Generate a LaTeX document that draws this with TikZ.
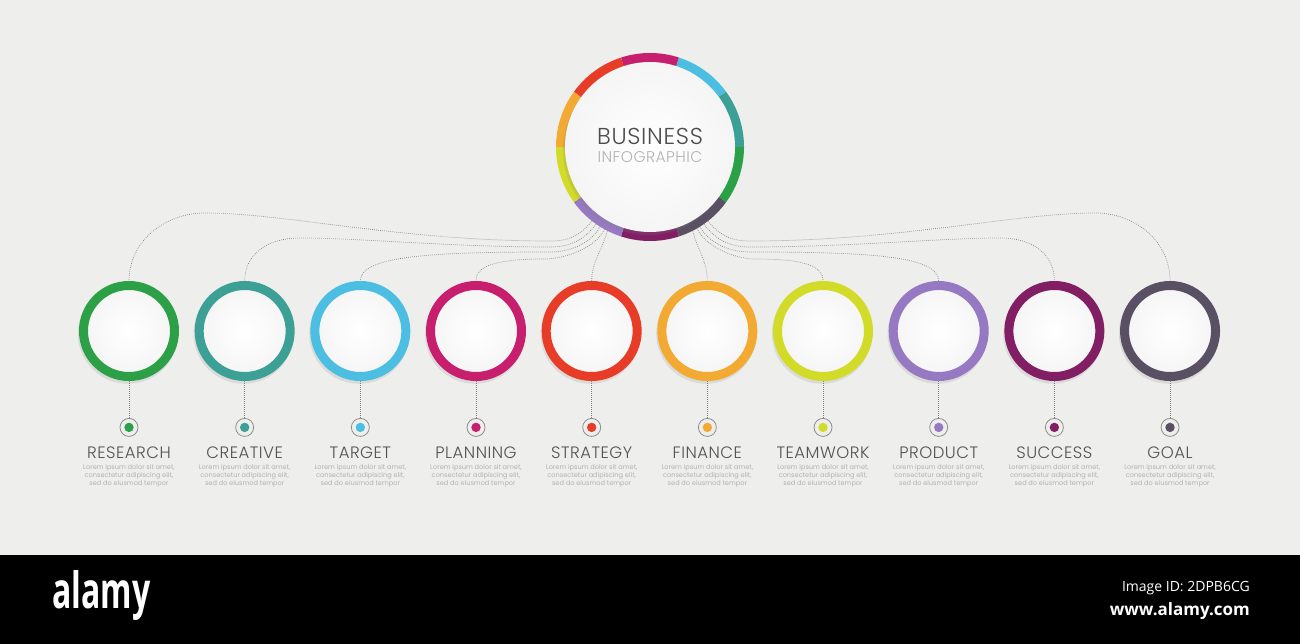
\documentclass[tikz,border=0pt]{standalone}
\usepackage{fontspec}
\setmainfont{Poppins}
\newfontfamily\thinfont{Poppins Light}[LetterSpace=3]
\newfontfamily\wmfont{Open Sans}
\usepackage{graphicx}
\usepackage{tikz}
\usetikzlibrary{positioning,shadows}

\definecolor{bg}{RGB}{238,238,236}
\definecolor{cresearch}{RGB}{44,160,70}
\definecolor{ccreative}{RGB}{60,160,150}
\definecolor{ctarget}{RGB}{75,190,225}
\definecolor{cplanning}{RGB}{200,30,110}
\definecolor{cstrategy}{RGB}{230,60,40}
\definecolor{cfinance}{RGB}{242,170,50}
\definecolor{cteamwork}{RGB}{210,220,40}
\definecolor{cproduct}{RGB}{150,120,195}
\definecolor{csuccess}{RGB}{130,30,100}
\definecolor{cgoal}{RGB}{90,80,100}

\begin{document}
\begin{tikzpicture}[x=1pt,y=1pt,node distance=115.67pt]
\tikzstyle{ring} = [circle, line width=9pt, minimum size=91pt, inner sep=0pt, outer sep=4.5pt, inner color=white, outer color=black!4, drop shadow={shadow scale=1.1, shadow xshift=-1pt, shadow yshift=-2.5pt, opacity=.18}]
\tikzstyle{hubface} = [circle, minimum size=170pt, inner sep=0pt, inner color=white, outer color=black!4, drop shadow={shadow xshift=-2pt, shadow yshift=-3pt, opacity=.2}]
\tikzstyle{dotring} = [circle, draw=black!45, line width=0.8pt, fill=bg, minimum size=18pt, inner sep=0pt]
\tikzstyle{steptitle} = [text=black!68, font=\thinfont\fontsize{16.5}{16.5}\selectfont, inner sep=0pt]
\tikzstyle{steptext} = [text=black!30, font=\fontsize{6.6}{8}\selectfont, align=center, inner sep=0pt]
\tikzstyle{link} = [draw=black!50, line width=0.7pt, dash pattern=on 0.7pt off 1.3pt]

\fill[bg] (0,0) rectangle (1300,-555);
\fill[black] (0,-555) rectangle (1300,-644);
\useasboundingbox (0,0) rectangle (1300,-644);

% hub
\node[circle, minimum size=188pt, inner sep=0pt] (hub) at (650,-147) {};
\foreach \a/\c in {72/cplanning, 36/ctarget, 0/ccreative, -36/cresearch, -72/cgoal, -108/csuccess, -144/cproduct, 180/cteamwork, 144/cfinance, 108/cstrategy}
  \draw[\c, line width=10pt] (hub.center) ++(\a:89) arc[start angle=\a, delta angle=36, radius=89];
\node[hubface] (hubface) at (hub.center) {};
\node[text=black!70, font=\thinfont\fontsize{23}{23}\selectfont, inner sep=0pt] (hubtitle) at (650,-136.5) {BUSINESS};
\node[text=black!30, font=\thinfont\fontsize{15.5}{15.5}\selectfont, inner sep=0pt] (hubsub) at (650,-157.5) {INFOGRAPHIC};

% steps
\node[ring, draw=cresearch] (research) at (129,-331) {};
\node[ring, draw=ccreative][right of=research] (creative) {};
\node[ring, draw=ctarget][right of=creative] (target) {};
\node[ring, draw=cplanning][right of=target] (planning) {};
\node[ring, draw=cstrategy][right of=planning] (strategy) {};
\node[ring, draw=cfinance][right of=strategy] (finance) {};
\node[ring, draw=cteamwork][right of=finance] (teamwork) {};
\node[ring, draw=cproduct][right of=teamwork] (product) {};
\node[ring, draw=csuccess][right of=product] (success) {};
\node[ring, draw=cgoal][right of=success] (goal) {};

\foreach \n/\c/\t in {research/cresearch/RESEARCH, creative/ccreative/CREATIVE, target/ctarget/TARGET, planning/cplanning/PLANNING, strategy/cstrategy/STRATEGY, finance/cfinance/FINANCE, teamwork/cteamwork/TEAMWORK, product/cproduct/PRODUCT, success/csuccess/SUCCESS, goal/cgoal/GOAL}{
  \node[dotring, below=37pt of \n] (\n-pin) {};
  \fill[\c] (\n-pin) circle (4.7);
  \draw[link] (\n) -- (\n-pin);
  \node[steptitle, below=10pt of \n-pin] (\n-title) {\t};
  \node[steptext, below=5pt of \n-title] (\n-text) {Lorem ipsum dolor sit amet,\\consectetur adipiscing elit,\\sed do eiusmod tempor};
}

% connectors
\draw[link] (hub.-128) .. controls +(-12,-14) and +(20,0) .. (550,-241) .. controls +(-150,0) and +(80,0) .. (205,-213) .. controls +(-40,0) and +(0,40) .. (research.north);
\draw[link] (hub.-125) .. controls +(-12,-16) and +(20,0) .. (550,-247) .. controls +(-100,0) and +(60,0) .. (300,-238) .. controls +(-35,0) and +(0,25) .. (creative.north);
\draw[link] (hub.-122) .. controls +(-10,-17) and +(20,0) .. (550,-252) .. controls +(-120,0) and +(0,25) .. (target.north);
\draw[link] (hub.-119.5) .. controls +(-8,-18) and +(20,0) .. (545,-259) .. controls +(-50,0) and +(0,15) .. (planning.north);
\draw[link] (hub.-117) .. controls +(-5,-20) and +(0,20) .. (strategy.north);
\draw[link] (hub.-63) .. controls +(5,-20) and +(0,20) .. (finance.north);
\draw[link] (hub.-60.5) .. controls +(8,-18) and +(-20,0) .. (755,-259) .. controls +(50,0) and +(0,15) .. (teamwork.north);
\draw[link] (hub.-58) .. controls +(10,-17) and +(-20,0) .. (750,-252) .. controls +(120,0) and +(0,25) .. (product.north);
\draw[link] (hub.-55) .. controls +(12,-16) and +(-20,0) .. (750,-247) .. controls +(100,0) and +(-60,0) .. (1000,-238) .. controls +(35,0) and +(0,25) .. (success.north);
\draw[link] (hub.-52) .. controls +(12,-14) and +(-20,0) .. (750,-241) .. controls +(150,0) and +(-80,0) .. (1095,-213) .. controls +(40,0) and +(0,40) .. (goal.north);

% bar
\node[text=white, font=\wmfont\bfseries\fontsize{50}{50}\selectfont, inner sep=0pt, anchor=base west] (wmlogo) at (52,-608) {\scalebox{0.64}[1]{alamy}};
\node[text=white, font=\wmfont\fontsize{14}{14}\selectfont, inner sep=0pt, anchor=base east] (wmid) at (1250,-591) {Image ID: 2DPB6CG};
\node[text=white, font=\wmfont\bfseries\fontsize{17}{17}\selectfont, inner sep=0pt, anchor=base east] (wmurl) at (1250,-615) {www.alamy.com};
\end{tikzpicture}
\end{document}
